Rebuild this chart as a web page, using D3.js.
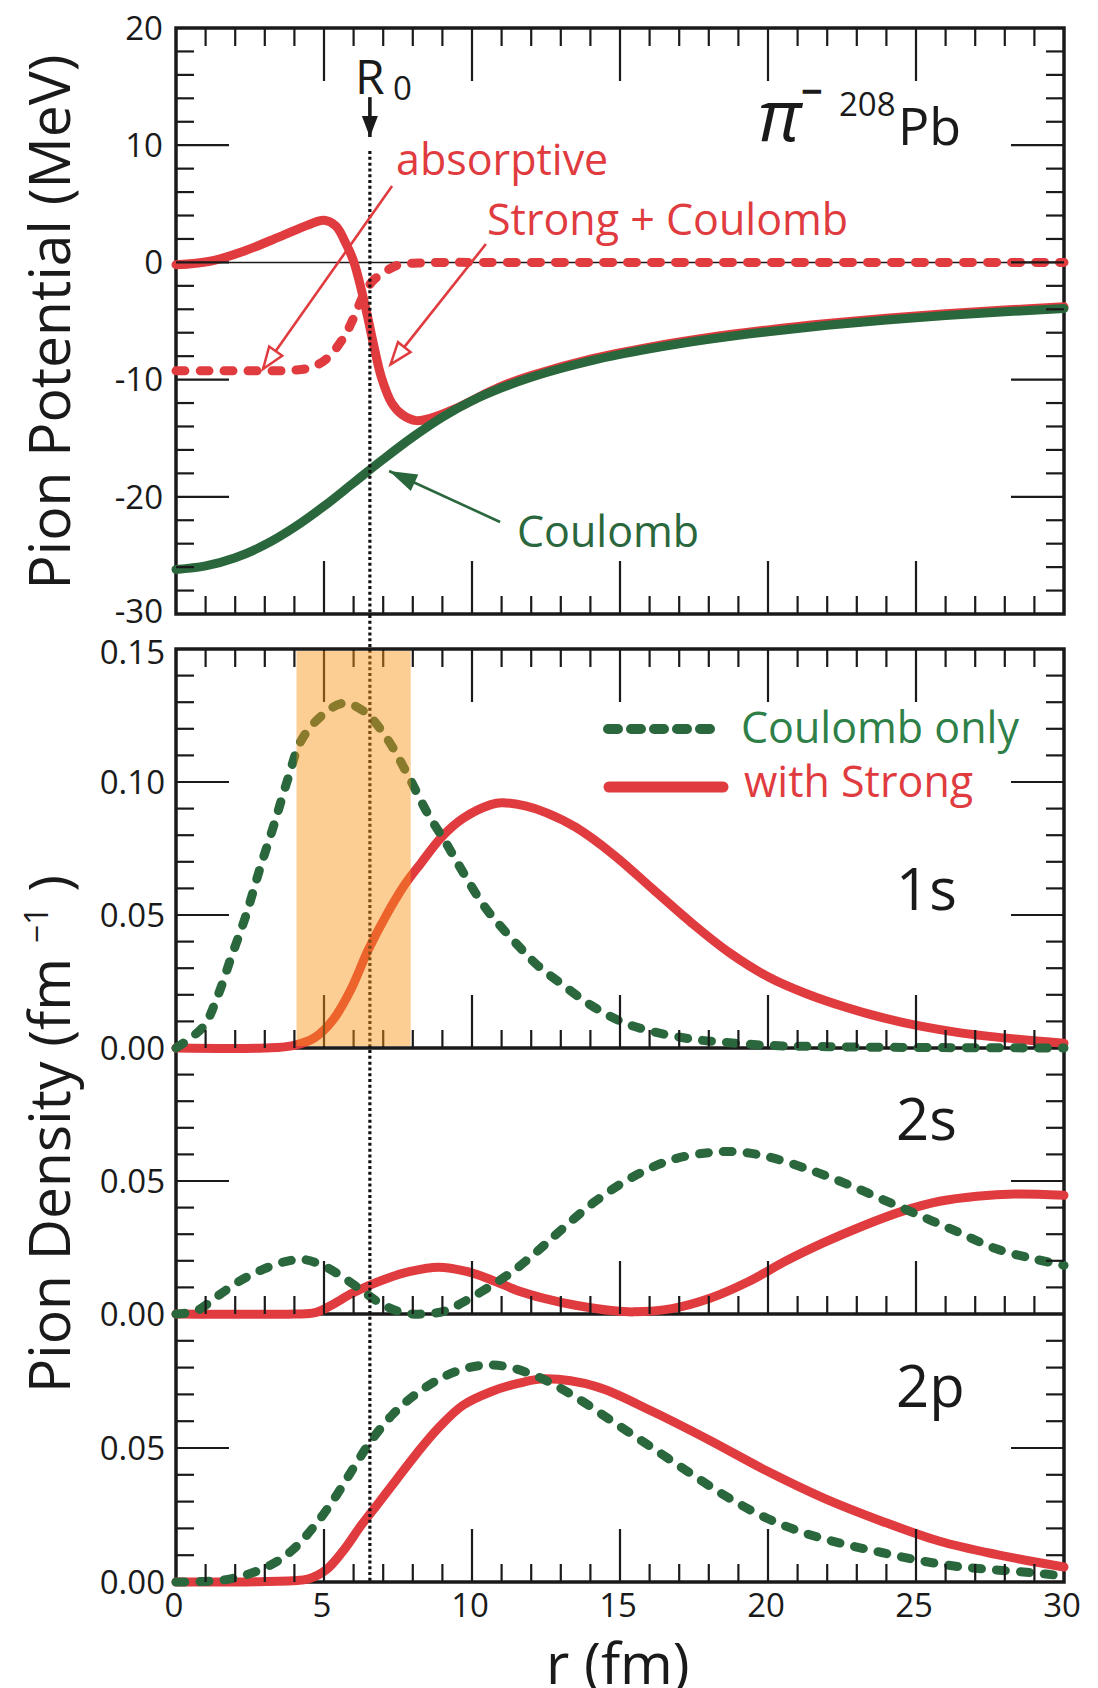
<!DOCTYPE html>
<html>
<head>
<meta charset="utf-8">
<script src="https://cdn.jsdelivr.net/npm/d3@7"></script>
<style>
body { margin: 0; background: #fff; }
text { font-family: "Open Sans", sans-serif; }
</style>
</head>
<body>
<script>
// pion potential, pi- on 208Pb (MeV)
var rPot = [0,1,2,3,4,5,6,7,8,9,10,11,12,13,14,15,16,17,18,19,20,22,24,26,28,30];
var vCoulomb = [-26.2,-25.9,-25.2,-24.1,-22.6,-20.8,-18.8,-16.8,-14.9,-13.2,-11.8,-10.7,-9.8,-9.05,-8.4,-7.85,-7.37,-6.94,-6.56,-6.22,-5.91,-5.37,-4.92,-4.54,-4.22,-3.94];

var rStrong = [0,1.15,2.33,3.51,4.46,5.0,5.4,5.76,6.0,6.23,6.47,6.7,6.94,7.29,7.65,8.12,8.59,9.42,10.3,11,12,14,16,18,20,22,24,26,28,30];
var vStrong = [-0.2,0.1,1.0,2.2,3.2,3.6,3.1,1.5,0.1,-2.0,-4.6,-7.3,-9.8,-12.0,-13.0,-13.5,-13.3,-12.5,-11.4,-10.55,-9.65,-8.25,-7.23,-6.41,-5.76,-5.22,-4.77,-4.39,-4.07,-3.79];

var rAbs = [0,1,2,3,3.5,4,4.5,5.05,5.64,5.99,6.35,6.64,7.06,7.53,8.2,9,10,15,20,25,30];
var vAbs = [-9.25,-9.25,-9.25,-9.25,-9.25,-9.2,-9.0,-8.3,-6.5,-4.8,-2.7,-1.6,-0.8,-0.2,-0.05,0,0,0,0,0,0];

// pion densities (fm^-1)
var r1sC = [0,0.92,1.4,1.87,2.35,2.82,3.29,3.77,4.24,4.95,5.66,6.37,7.09,7.8,8.51,9.1,9.69,10.4,10.95,11.6,12.2,13.0,14.0,15.07,16.1,17.4,18.7,20,22,25,30];
var d1sC = [0,0.008,0.0193,0.0343,0.0494,0.0669,0.0832,0.1008,0.1158,0.1252,0.1296,0.1264,0.117,0.1033,0.088,0.0775,0.0662,0.0535,0.046,0.038,0.0312,0.0243,0.0162,0.0098,0.0062,0.0034,0.002,0.001,0.0005,0.0002,0];
var r1sS = [0,3,4,4.7,5.3,5.9,6.49,7.08,7.68,8.27,8.98,9.69,10.64,11.0,11.8,12.5,13.5,14.8,16.1,17.4,18.7,20,21.3,22.6,23.9,25.2,26.5,27.8,30];
var d1sS = [0,0,0.001,0.004,0.0105,0.0218,0.0368,0.0494,0.0606,0.0694,0.0794,0.0863,0.0915,0.0922,0.091,0.0885,0.083,0.0725,0.0598,0.0472,0.0358,0.0268,0.0204,0.0154,0.0113,0.0081,0.0057,0.004,0.0018];

var r2sC = [0,0.69,1.4,2.11,2.94,3.77,4.36,4.95,5.55,6.26,6.97,7.68,8.39,9.1,9.81,10.64,11.35,12.2,12.9,14.17,15.46,16.75,18.04,18.94,19.97,21.26,22.55,23.84,25.13,26.42,27.71,29,30];
var d2sC = [0,0.0012,0.0067,0.0121,0.0168,0.0199,0.0204,0.0183,0.0145,0.009,0.0036,0.0005,0,0.0012,0.0051,0.0106,0.0158,0.0235,0.0305,0.0424,0.0517,0.058,0.0607,0.061,0.0592,0.0548,0.0494,0.0432,0.037,0.0308,0.0245,0.0207,0.0183];
var r2sS = [0,4,4.7,5.3,5.9,6.49,7.08,7.91,8.86,9.81,10.64,11.59,12.4,13.5,14.8,15.46,16.75,18.04,19.33,20.6,21.9,23.2,24.5,25.8,27.06,28.35,30];
var d2sS = [0,0,0.0005,0.0036,0.0075,0.0106,0.0132,0.016,0.0176,0.016,0.0129,0.0086,0.006,0.0033,0.0012,0.0008,0.002,0.0059,0.0121,0.0199,0.0269,0.0331,0.0385,0.0424,0.0443,0.0451,0.0446];

var r2pC = [0,1.75,3.06,3.89,4.72,5.43,6.02,6.61,7.32,8.03,8.86,9.45,10.28,11.1,12.24,13.5,14.8,16.1,17.4,18.7,20,21.26,22.55,23.84,25.13,26.4,27.7,29,30];
var d2pC = [0,0.001,0.0056,0.0115,0.0215,0.0325,0.043,0.053,0.0625,0.0695,0.0755,0.0785,0.0808,0.0805,0.0765,0.069,0.0595,0.05,0.0404,0.0312,0.0236,0.0182,0.0142,0.011,0.008,0.0058,0.0045,0.0034,0.0022];
var r2pS = [0,3,4.48,5.07,5.66,6.26,6.85,7.44,8.15,8.86,9.69,10.64,11.59,12.5,14.2,16.1,18.04,20,21.9,23.84,25.8,27.7,30];
var d2pS = [0,0.0002,0.0012,0.0045,0.0118,0.0212,0.0296,0.0381,0.0482,0.0574,0.0659,0.071,0.0742,0.0758,0.0729,0.0636,0.0528,0.0412,0.0312,0.0227,0.0152,0.0103,0.0056];

var R0 = 6.55;           // nuclear radius marker
var band = [4.07, 7.93]; // shaded region in 1s panel

var xTicks = [0,5,10,15,20,25,30];
var potTicks = [20,10,0,-10,-20,-30];
var potLabels = ["20","10","0","-10","-20","-30"];
var ticks1s = [0.15,0.10,0.05,0.00];
var labels1s = ["0.15","0.10","0.05","0.00"];
var ticks2 = [0.05,0.00];
var labels2 = ["0.05","0.00"];

var red = "#e03b3f";
var green = "#2a673d";
var greenText = "#2f7f48";

var W = 1098, H = 1688;

var svg = d3.select("body").append("svg")
    .attr("width", W)
    .attr("height", H);

var defs = svg.append("defs");

function marker(id, d, fill, stroke) {
    defs.append("marker")
        .attr("id", id)
        .attr("viewBox", "-32 -14 36 28")
        .attr("refX", 0)
        .attr("refY", 0)
        .attr("markerWidth", 36)
        .attr("markerHeight", 28)
        .attr("markerUnits", "userSpaceOnUse")
        .attr("orient", "auto")
        .append("path")
        .attr("d", d)
        .attr("fill", fill)
        .attr("stroke", stroke)
        .attr("stroke-width", stroke == "none" ? 0 : 2.5);
}
marker("openRed", "M0,0L-22,-8L-22,8Z", "#fff", red);
marker("fillGreen", "M0,0L-28,-9L-28,9Z", green, "none");
marker("fillBlack", "M0,0L-21,-8L-21,8Z", "#1a1a1a", "none");

var x = d3.scaleLinear().domain([0, 30]).range([176, 1064]);

var yPot = d3.scaleLinear().domain([-30, 20]).range([614, 28]);
var y1s = d3.scaleLinear().domain([0, 0.15]).range([1048, 649]);
var y2s = d3.scaleLinear().domain([0, 0.10]).range([1314, 1048]);
var y2p = d3.scaleLinear().domain([0, 0.10]).range([1582, 1314]);

function path(yScale) {
    return d3.line()
        .x(function (d) { return x(d[0]); })
        .y(function (d) { return yScale(d[1]); })
        .curve(d3.curveCatmullRom.alpha(0.5));
}

// frames
svg.append("rect")
    .attr("x", x(0)).attr("y", yPot(20))
    .attr("width", x(30) - x(0)).attr("height", yPot(-30) - yPot(20))
    .attr("fill", "none").attr("stroke", "#1a1a1a").attr("stroke-width", 3.5);
svg.append("rect")
    .attr("x", x(0)).attr("y", y1s(0.15))
    .attr("width", x(30) - x(0)).attr("height", y2p(0) - y1s(0.15))
    .attr("fill", "none").attr("stroke", "#1a1a1a").attr("stroke-width", 3.5);
[y1s(0), y2s(0)].forEach(function (yy) {
    svg.append("line")
        .attr("x1", x(0)).attr("x2", x(30))
        .attr("y1", yy).attr("y2", yy)
        .attr("stroke", "#1a1a1a").attr("stroke-width", 3.5);
});

// zero line of potential
svg.append("line")
    .attr("x1", x(0)).attr("x2", x(30))
    .attr("y1", yPot(0)).attr("y2", yPot(0))
    .attr("stroke", "#1a1a1a").attr("stroke-width", 1.5);

var dash = "9,15";

// potential curves
svg.append("path")
    .attr("d", path(yPot)(d3.zip(rAbs, vAbs)))
    .attr("fill", "none").attr("stroke", red).attr("stroke-width", 9)
    .attr("stroke-dasharray", dash).attr("stroke-linecap", "round");
svg.append("path")
    .attr("d", path(yPot)(d3.zip(rStrong, vStrong)))
    .attr("fill", "none").attr("stroke", red).attr("stroke-width", 9)
    .attr("stroke-linecap", "round");
svg.append("path")
    .attr("d", path(yPot)(d3.zip(rPot, vCoulomb)))
    .attr("fill", "none").attr("stroke", green).attr("stroke-width", 9)
    .attr("stroke-linecap", "round");

// density curves: red (with strong) under green dashed (coulomb only)
var dens = [
    [y1s, r1sS, d1sS, r1sC, d1sC],
    [y2s, r2sS, d2sS, r2sC, d2sC],
    [y2p, r2pS, d2pS, r2pC, d2pC]
];
dens.forEach(function (p) {
    svg.append("path")
        .attr("d", path(p[0])(d3.zip(p[1], p[2])))
        .attr("fill", "none").attr("stroke", red).attr("stroke-width", 9)
        .attr("stroke-linecap", "round");
    svg.append("path")
        .attr("d", path(p[0])(d3.zip(p[3], p[4])))
        .attr("fill", "none").attr("stroke", green).attr("stroke-width", 9)
        .attr("stroke-dasharray", dash).attr("stroke-linecap", "round");
});

// ticks
var minorLen = 18, majorLen = 53;
var tickG = svg.append("g").attr("stroke", "#1a1a1a").attr("stroke-width", 2.2);

function xTicksAt(yy, dir) {
    d3.range(1, 30).forEach(function (i) {
        var len = i % 5 == 0 ? majorLen : minorLen;
        tickG.append("line")
            .attr("x1", x(i)).attr("x2", x(i))
            .attr("y1", yy).attr("y2", yy + dir * len);
    });
}
function yTicksAt(vals, yScale, isMajor) {
    vals.forEach(function (v) {
        var len = isMajor(v) ? majorLen : minorLen;
        tickG.append("line")
            .attr("x1", x(0)).attr("x2", x(0) + len)
            .attr("y1", yScale(v)).attr("y2", yScale(v));
        tickG.append("line")
            .attr("x1", x(30)).attr("x2", x(30) - len)
            .attr("y1", yScale(v)).attr("y2", yScale(v));
    });
}

xTicksAt(yPot(20), 1);
xTicksAt(yPot(-30), -1);
xTicksAt(y1s(0.15), 1);
xTicksAt(y1s(0), -1);
xTicksAt(y2s(0), -1);
xTicksAt(y2p(0), -1);

var byFive = function (v) { return Math.round(v * 100) % 5 == 0; };
yTicksAt(d3.range(-14, 10).map(function (i) { return i * 2; }), yPot,
    function (v) { return v % 10 == 0; });
yTicksAt(d3.range(1, 15).map(function (i) { return i / 100; }), y1s, byFive);
yTicksAt(d3.range(1, 10).map(function (i) { return i / 100; }), y2s, byFive);
yTicksAt(d3.range(1, 10).map(function (i) { return i / 100; }), y2p, byFive);

// R0 dotted line
svg.append("line")
    .attr("x1", x(R0)).attr("x2", x(R0))
    .attr("y1", yPot(9.5)).attr("y2", y2p(0))
    .attr("stroke", "#111").attr("stroke-width", 3.2)
    .attr("stroke-dasharray", "3,2.8");

// R0 arrow and label
svg.append("line")
    .attr("x1", x(R0)).attr("x2", x(R0))
    .attr("y1", yPot(14.1)).attr("y2", yPot(10.7))
    .attr("stroke", "#1a1a1a").attr("stroke-width", 3.6)
    .attr("marker-end", "url(#fillBlack)");
svg.append("text")
    .attr("x", x(R0) - 15).attr("y", 94)
    .attr("font-size", 48).attr("fill", "#1a1a1a")
    .text("R");
svg.append("text")
    .attr("x", x(R0) + 23).attr("y", 100)
    .attr("font-size", 33).attr("fill", "#1a1a1a")
    .text("0");

// shaded band in 1s panel
svg.append("rect")
    .attr("x", x(band[0])).attr("width", x(band[1]) - x(band[0]))
    .attr("y", y1s(0.15) + 2).attr("height", y1s(0) - y1s(0.15) - 4)
    .attr("fill", "rgb(250,148,22)").attr("fill-opacity", 0.46);

// annotations in the potential panel
function arrow(r1, v1, r2, v2, color, mk) {
    svg.append("line")
        .attr("x1", x(r1)).attr("y1", yPot(v1))
        .attr("x2", x(r2)).attr("y2", yPot(v2))
        .attr("stroke", color).attr("stroke-width", 2.6)
        .attr("marker-end", "url(#" + mk + ")");
}
arrow(7.30, 6.52, 2.94, -9.1, red, "openRed");
arrow(10.47, 1.57, 7.25, -8.7, red, "openRed");
arrow(10.95, -22.15, 7.2, -17.8, green, "fillGreen");

svg.append("text")
    .attr("x", 396).attr("y", 175)
    .attr("font-size", 43).attr("fill", red)
    .text("absorptive");
svg.append("text")
    .attr("x", 487).attr("y", 235)
    .attr("font-size", 43).attr("fill", red)
    .text("Strong + Coulomb");
svg.append("text")
    .attr("x", 517).attr("y", 547)
    .attr("font-size", 43).attr("fill", green)
    .text("Coulomb");

// pi- 208Pb
svg.append("text")
    .attr("x", 758).attr("y", 141)
    .attr("font-size", 72).attr("font-style", "italic")
    .attr("font-family", "'Liberation Serif', serif")
    .attr("fill", "#1a1a1a")
    .text("π");
svg.append("text")
    .attr("x", 801).attr("y", 105)
    .attr("font-size", 38).attr("font-weight", "bold")
    .attr("fill", "#1a1a1a")
    .text("−");
svg.append("text")
    .attr("x", 839).attr("y", 116)
    .attr("font-size", 33).attr("fill", "#1a1a1a")
    .text("208");
svg.append("text")
    .attr("x", 898).attr("y", 145)
    .attr("font-size", 52).attr("fill", "#1a1a1a")
    .text("Pb");

// legend
svg.append("line")
    .attr("x1", 608).attr("x2", 713)
    .attr("y1", 729).attr("y2", 729)
    .attr("stroke", green).attr("stroke-width", 10)
    .attr("stroke-dasharray", "10,13").attr("stroke-linecap", "round");
svg.append("line")
    .attr("x1", 609).attr("x2", 723)
    .attr("y1", 787).attr("y2", 787)
    .attr("stroke", red).attr("stroke-width", 11)
    .attr("stroke-linecap", "round");
svg.append("text")
    .attr("x", 741).attr("y", 743)
    .attr("font-size", 43).attr("fill", greenText)
    .text("Coulomb only");
svg.append("text")
    .attr("x", 744).attr("y", 797)
    .attr("font-size", 43).attr("fill", red)
    .text("with Strong");

// state labels
[["1s", 910], ["2s", 1140], ["2p", 1407]].forEach(function (s) {
    svg.append("text")
        .attr("x", 896).attr("y", s[1])
        .attr("font-size", 58).attr("fill", "#1a1a1a")
        .text(s[0]);
});

// tick labels
var lab = svg.append("g").attr("font-size", 33).attr("fill", "#1a1a1a");
potTicks.forEach(function (v, i) {
    lab.append("text")
        .attr("x", 163).attr("y", yPot(v) - (v == -30 ? 3 : 0)).attr("dy", "0.36em")
        .attr("text-anchor", "end").text(potLabels[i]);
});
ticks1s.forEach(function (v, i) {
    lab.append("text")
        .attr("x", 165).attr("y", y1s(v) + (v == 0.15 ? 3 : 0)).attr("dy", "0.36em")
        .attr("text-anchor", "end").text(labels1s[i]);
});
[y2s, y2p].forEach(function (ys) {
    ticks2.forEach(function (v, i) {
        lab.append("text")
            .attr("x", 165).attr("y", ys(v)).attr("dy", "0.36em")
            .attr("text-anchor", "end").text(labels2[i]);
    });
});
xTicks.forEach(function (v) {
    lab.append("text")
        .attr("x", x(v) - 2).attr("y", 1617)
        .attr("text-anchor", "middle").text(v);
});

// axis titles
svg.append("text")
    .attr("transform", "translate(70,322) rotate(-90)")
    .attr("text-anchor", "middle")
    .attr("font-size", 57).attr("fill", "#1a1a1a")
    .text("Pion Potential (MeV)");

var dt = svg.append("text")
    .attr("transform", "translate(70,1134) rotate(-90)")
    .attr("text-anchor", "middle")
    .attr("font-size", 57).attr("fill", "#1a1a1a");
dt.append("tspan").text("Pion Density (fm ");
dt.append("tspan").attr("font-size", 32).attr("dy", -22).text("−1");
dt.append("tspan").attr("dy", 22).text(" )");

svg.append("text")
    .attr("x", 546).attr("y", 1684)
    .attr("font-size", 57).attr("fill", "#1a1a1a")
    .text("r (fm)");
</script>
</body>
</html>
